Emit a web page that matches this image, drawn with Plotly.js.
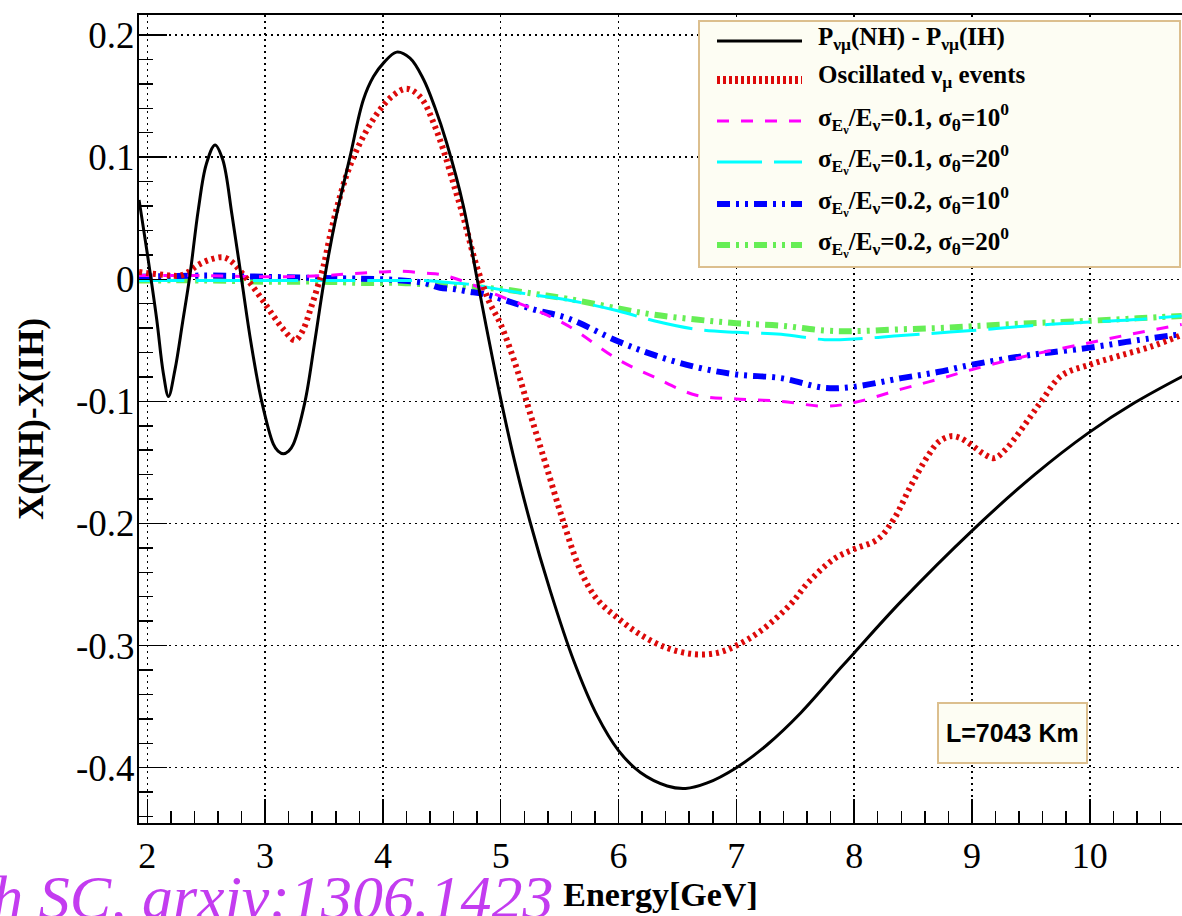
<!DOCTYPE html>
<html><head><meta charset="utf-8">
<script src="https://cdn.plot.ly/plotly-3.0.1.min.js"></script>
<style>html,body{margin:0;padding:0;background:#fff;overflow:hidden}#chart{width:1182px;height:916px}</style>
</head><body><div id="chart"></div>
<script>
// ---------------- data ----------------
const energyBlack = [1.93,2.0,2.08,2.136,2.18,2.235,2.30,2.36,2.433,2.50,2.575,2.64,2.72,2.80,2.88,2.971,3.07,3.11,3.155,3.2,3.24,3.339,3.42,3.503,3.60,3.72,3.834,3.92,4.004,4.117,4.23,4.343,4.44,4.54,4.683,4.80,4.90,5.0,5.108,5.25,5.42,5.618,5.817,6.0,6.186,6.413,6.569,6.753,7.0,7.264,7.548,7.888,8.0,8.397,9.0,9.532,9.986,10.383,10.797];
const probDiff    = [0.065,0.021,-0.033,-0.077,-0.096,-0.074,-0.035,0.002,0.057,0.094,0.110,0.098,0.052,0.0,-0.052,-0.100,-0.135,-0.1408,-0.143,-0.1408,-0.135,-0.100,-0.052,0.0,0.05,0.100,0.147,0.166,0.177,0.186,0.181,0.164,0.141,0.112,0.060,0.0,-0.050,-0.098,-0.145,-0.199,-0.255,-0.312,-0.357,-0.386,-0.404,-0.415,-0.417,-0.4125,-0.400,-0.381,-0.355,-0.318,-0.306,-0.264,-0.206,-0.160,-0.126,-0.101,-0.079];

const energyRed = [1.93,2.0,2.1,2.2,2.277,2.35,2.42,2.53,2.645,2.72,2.787,2.88,2.985,3.07,3.155,3.254,3.32,3.38,3.44,3.494,3.55,3.608,3.69,3.778,3.88,3.976,4.08,4.188,4.26,4.343,4.43,4.513,4.6,4.683,4.767,4.825,4.9,5.0,5.136,5.25,5.39,5.533,5.675,5.817,6.0,6.186,6.413,6.64,6.838,7.0,7.207,7.462,7.604,7.83,8.0,8.199,8.34,8.482,8.624,8.72,8.823,8.9,9.0,9.1,9.191,9.28,9.39,9.5,9.589,9.759,10.0,10.24,10.525,10.797];
const oscEvents = [0.006,0.005,0.004,0.003,0.003,0.006,0.011,0.016,0.018,0.014,0.007,-0.004,-0.018,-0.030,-0.041,-0.050,-0.042,-0.026,-0.008,0.010,0.035,0.058,0.085,0.106,0.125,0.139,0.150,0.156,0.154,0.146,0.128,0.106,0.078,0.051,0.020,0.002,-0.018,-0.037,-0.073,-0.110,-0.154,-0.199,-0.238,-0.262,-0.278,-0.291,-0.302,-0.307,-0.306,-0.300,-0.288,-0.266,-0.249,-0.229,-0.221,-0.213,-0.196,-0.169,-0.145,-0.133,-0.1285,-0.130,-0.136,-0.143,-0.1465,-0.140,-0.127,-0.112,-0.100,-0.079,-0.070,-0.063,-0.055,-0.045];

const energySmear = [1.93,2.5,3.0,3.5,3.8,4.0,4.16,4.35,4.485,4.6,4.72,4.85,5.0,5.29,5.57,6.0,6.3,6.66,7.0,7.38,7.75,8.0,8.4,8.71,9.0,9.5,10.0,10.4,10.78];
const res01ang10 = [0.003,0.003,0.002,0.003,0.005,0.006,0.0065,0.005,0.004,0.001,-0.003,-0.008,-0.014,-0.025,-0.038,-0.066,-0.080,-0.095,-0.098,-0.100,-0.104,-0.101,-0.090,-0.082,-0.074,-0.062,-0.052,-0.044,-0.037];
const res01ang20 = [-0.001,-0.001,-0.001,-0.001,-0.001,-0.001,-0.001,-0.001,-0.002,-0.003,-0.004,-0.006,-0.0085,-0.013,-0.017,-0.026,-0.034,-0.041,-0.0435,-0.045,-0.0495,-0.049,-0.046,-0.044,-0.042,-0.038,-0.035,-0.033,-0.030];
const res02ang10 = [0.002,0.003,0.002,0.001,0.0005,0.0,-0.001,-0.003,-0.007,-0.008,-0.010,-0.012,-0.016,-0.025,-0.032,-0.051,-0.062,-0.072,-0.078,-0.081,-0.089,-0.088,-0.081,-0.076,-0.070,-0.062,-0.056,-0.050,-0.045];
const res02ang20 = [-0.001,-0.001,-0.002,-0.002,-0.003,-0.003,-0.003,-0.004,-0.004,-0.005,-0.006,-0.007,-0.008,-0.012,-0.016,-0.024,-0.029,-0.033,-0.036,-0.038,-0.042,-0.0425,-0.041,-0.040,-0.0385,-0.036,-0.034,-0.032,-0.030];

const yTickVals = [-0.4,-0.3,-0.2,-0.1,0,0.1,0.2];
const yTickText = ['-0.4','-0.3','-0.2','-0.1','0','0.1','0.2'];
const xTickVals = [2,3,4,5,6,7,8,9,10];
const xTickText = ['2','3','4','5','6','7','8','9','10'];

const legendLabels = [
  'P<sub>νμ</sub>(NH) - P<sub>νμ</sub>(IH)',
  'Oscillated ν<sub>μ</sub> events',
  'σ<sub>E<sub>ν</sub></sub>/E<sub>ν</sub>=0.1, σ<sub>θ</sub>=10<sup>0</sup>',
  'σ<sub>E<sub>ν</sub></sub>/E<sub>ν</sub>=0.1, σ<sub>θ</sub>=20<sup>0</sup>',
  'σ<sub>E<sub>ν</sub></sub>/E<sub>ν</sub>=0.2, σ<sub>θ</sub>=10<sup>0</sup>',
  'σ<sub>E<sub>ν</sub></sub>/E<sub>ν</sub>=0.2, σ<sub>θ</sub>=20<sup>0</sup>'
];

// ---------------- styles ----------------
const SERIF = 'Liberation Serif, Times New Roman, serif';
const SANS = 'Liberation Sans, Arial, sans-serif';
const styles = [
  {color:'#000000', width:3, dash:'solid'},
  {color:'#dd0a0a', width:6, dash:'3px,4px'},
  {color:'#ff00ff', width:3, dash:'12px,12px'},
  {color:'#00ffff', width:3, dash:'45px,12px'},
  {color:'#0000ff', width:6, dash:'13px,6px,3px,6px,3px,6px'},
  {color:'#66ee55', width:6, dash:'13px,6px,3px,6px,3px,6px'}
];

const series = [
  [energyBlack, probDiff],
  [energyRed, oscEvents],
  [energySmear, res01ang10],
  [energySmear, res01ang20],
  [energySmear, res02ang10],
  [energySmear, res02ang20]
];
const drawOrder = [5,4,3,2,1,0];
const traces = drawOrder.map(i => ({
  x: series[i][0], y: series[i][1], type:'scatter', mode:'lines',
  line:{color:styles[i].color, width:styles[i].width, dash:styles[i].dash, shape:'spline', smoothing:1},
  hoverinfo:'skip', showlegend:false
}));

// ---------------- layout ----------------
const L=139, T=15, R=1182, B=823;
const px2x = p => (p-L)/(R-L);
const py2y = p => (B-p)/(B-T);

const shapes = [];
const annotations = [];
// legend box
shapes.push({type:'rect', xref:'paper', yref:'paper', x0:px2x(699), x1:px2x(1180), y0:py2y(267), y1:py2y(21),
  fillcolor:'#fdfdf3', line:{color:'#dcbf8e', width:2}, layer:'above'});
const rowY = [41, 80, 121, 162, 204, 245];
legendLabels.forEach((lab,i)=>{
  shapes.push({type:'line', xref:'paper', yref:'paper', x0:px2x(717), x1:px2x(802), y0:py2y(rowY[i]), y1:py2y(rowY[i]),
    line:{color:styles[i].color, width: i===1?8:(i>=4?6:3), dash: i===1?'3px,3px':styles[i].dash}, layer:'above'});
  annotations.push({xref:'paper', yref:'paper', x:px2x(816), y:py2y(rowY[i]-3), xanchor:'left', yanchor:'middle',
    text:'<b>'+lab+'</b>', showarrow:false, font:{family:SERIF, size:25, color:'#000'}});
});
// L box
shapes.push({type:'rect', xref:'paper', yref:'paper', x0:px2x(938), x1:px2x(1087), y0:py2y(763), y1:py2y(703),
  fillcolor:'#fdfdf3', line:{color:'#dcbf8e', width:2}, layer:'above'});
annotations.push({xref:'paper', yref:'paper', x:px2x(1012), y:py2y(733), xanchor:'center', yanchor:'middle',
  text:'<b>L=7043 Km</b>', showarrow:false, font:{family:SANS, size:25, color:'#000'}});
// citation
annotations.push({xref:'paper', yref:'paper', x:px2x(556), y:py2y(861), xanchor:'right', yanchor:'top',
  text:'<i>sh SC, arxiv:1306.1423</i>', showarrow:false, font:{family:SERIF, size:62, color:'#c33cf0'}});

const layout = {
  width:1182, height:916,
  margin:{l:L, r:1182-R, t:T, b:916-B, pad:0},
  paper_bgcolor:'#fff', plot_bgcolor:'#fff',
  showlegend:false,
  xaxis:{
    range:[1.9295, 10.783], tickmode:'array', tickvals:xTickVals, ticktext:xTickText,
    ticks:'inside', ticklen:24, tickwidth:1.5, tickcolor:'#000',
    minor:{tickmode:'linear', tick0:0, dtick:0.2, ticks:'inside', ticklen:12, tickwidth:1.5, tickcolor:'#000', showgrid:false},
    showline:true, linecolor:'#000', linewidth:2, mirror:true,
    showgrid:true, gridcolor:'#000', gridwidth:1.5, griddash:'2px,4px', zeroline:false,
    tickfont:{family:SERIF, size:36, color:'#000'}, ticklabelstandoff:0,
    title:{text:'<b>Energy[GeV]</b>', font:{family:SERIF, size:34, color:'#000'}, standoff:2}
  },
  yaxis:{
    range:[-0.4453, 0.2164], tickmode:'array', tickvals:yTickVals, ticktext:yTickText,
    ticks:'inside', ticklen:28, tickwidth:1.5, tickcolor:'#000',
    minor:{tickmode:'linear', tick0:0, dtick:0.02, ticks:'inside', ticklen:14, tickwidth:1.5, tickcolor:'#000', showgrid:false},
    showline:true, linecolor:'#000', linewidth:2, mirror:false,
    showgrid:true, gridcolor:'#000', gridwidth:1.5, griddash:'2px,4px', zeroline:false,
    tickfont:{family:SERIF, size:37, color:'#000'}, ticklabelstandoff:-5,
    title:{text:'<b>X(NH)-X(IH)</b>', font:{family:SERIF, size:35, color:'#000'}, standoff:22}
  },
  shapes:shapes, annotations:annotations
};

Plotly.newPlot('chart', traces, layout, {displayModeBar:false, staticPlot:true});
</script>
</body></html>
